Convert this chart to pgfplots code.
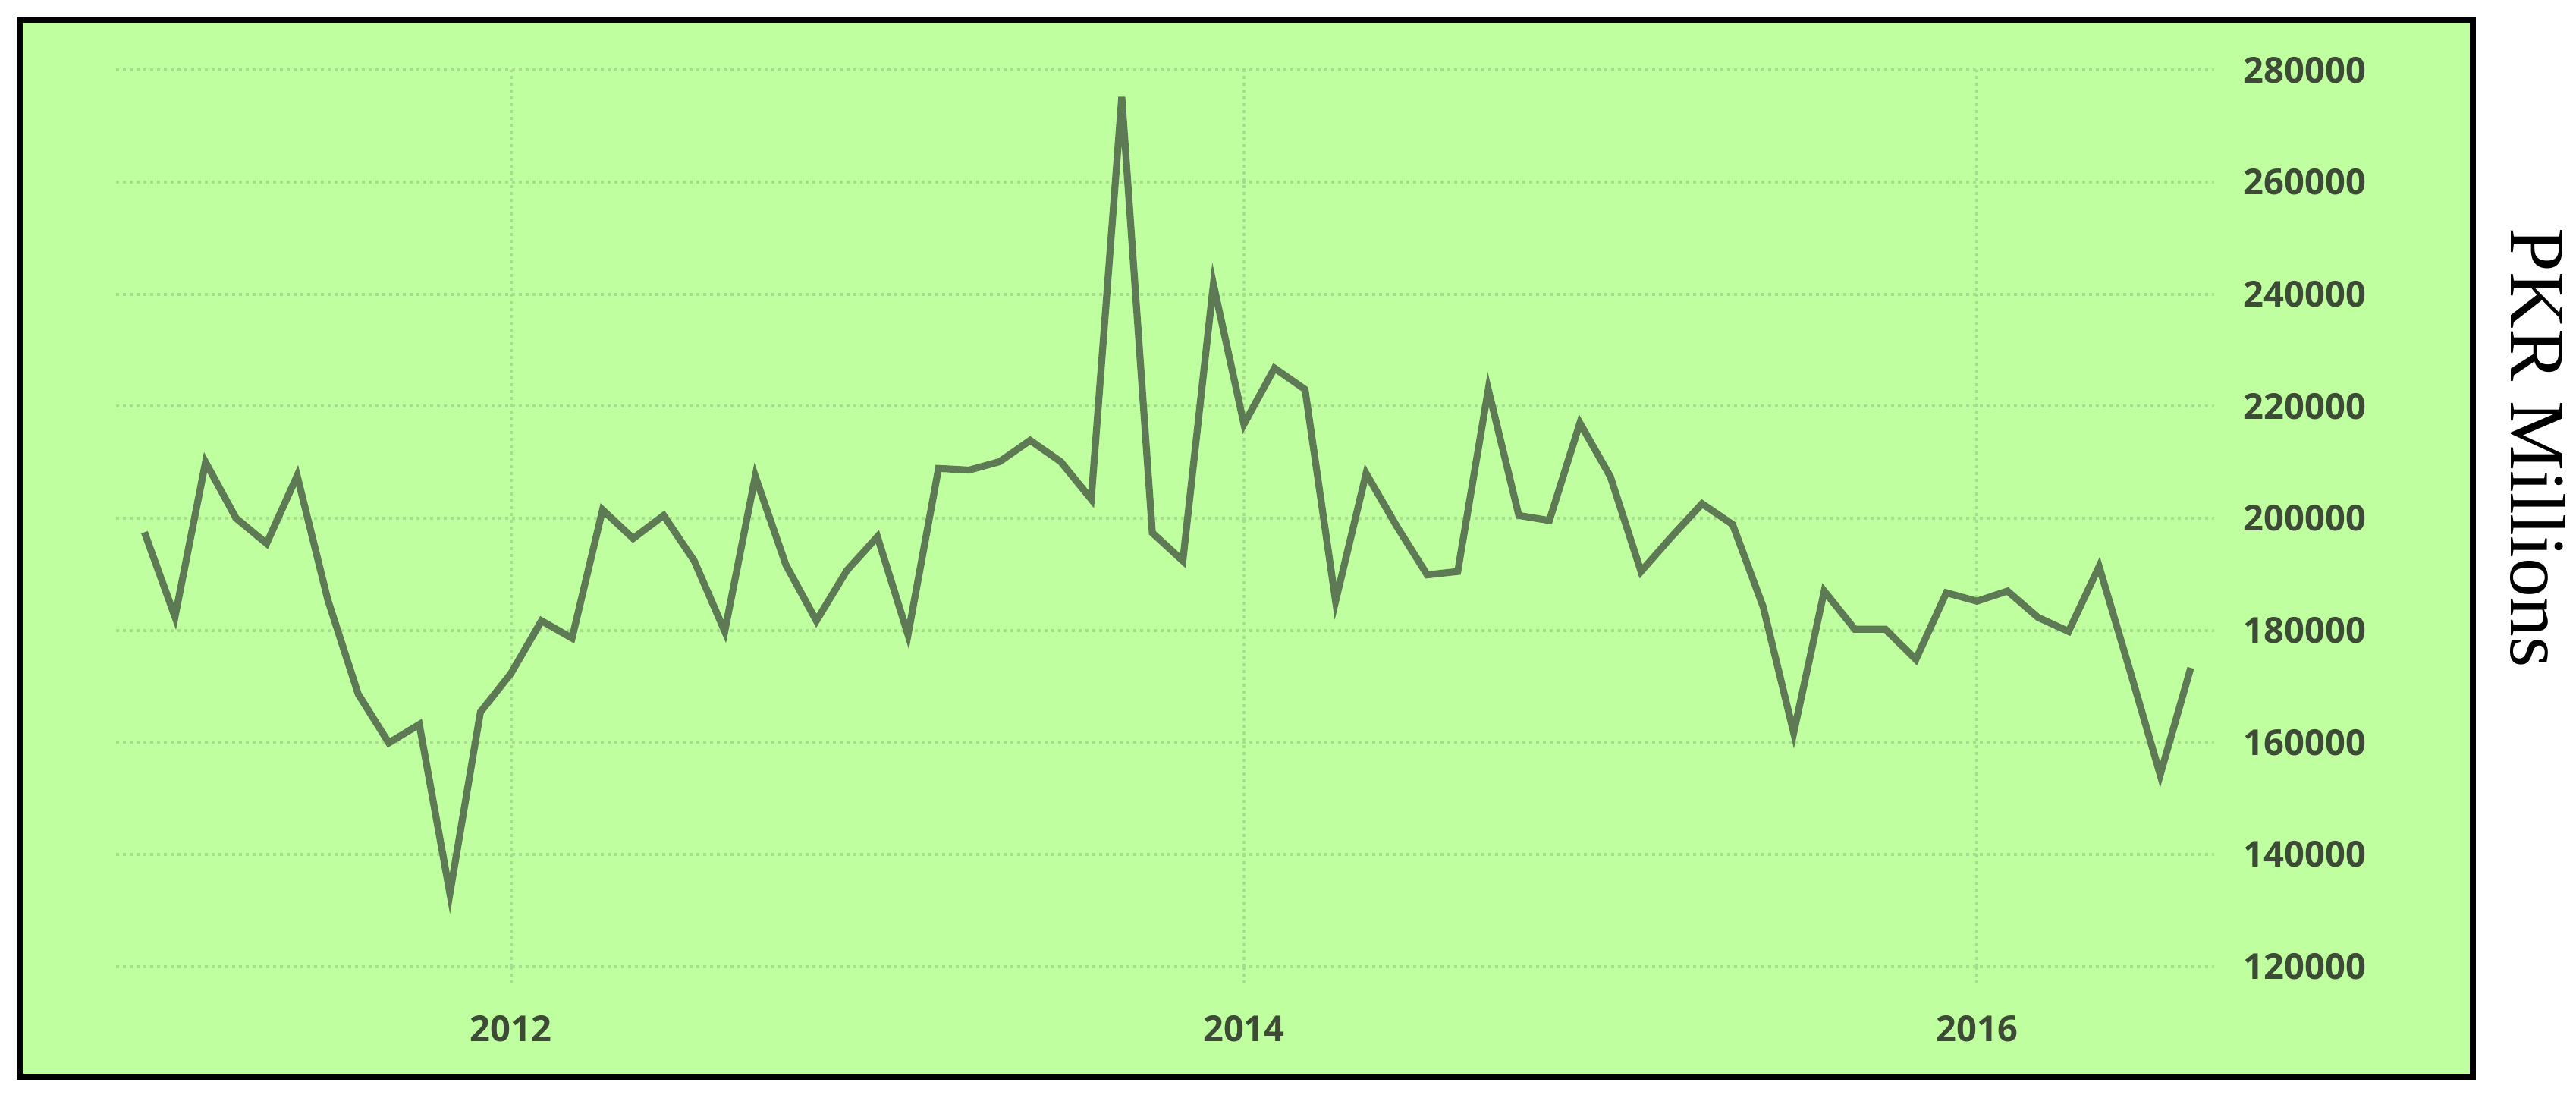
\documentclass[border=0pt]{standalone}
\usepackage{fontspec}
\setmainfont{Open Sans}
\newfontfamily\tnr{Liberation Serif}
\usepackage{pgfplots}
\pgfplotsset{compat=1.18}
\definecolor{bg}{HTML}{C0FFA0}
\definecolor{gridc}{HTML}{A6DE8E}
\definecolor{linec}{HTML}{5E7A55}
\definecolor{labc}{HTML}{3C4A36}
\begin{document}
\begin{tikzpicture}[x=1bp,y=1bp]
\path[use as bounding box] (0,0) rectangle (849,361.5);
\fill[bg] (6.5,6.75) rectangle (815,355);
\begin{axis}[
    at={(38.25bp,43.1bp)}, anchor=south west,
    scale only axis,
    width=691.5bp, height=295.3bp,
    xmin=-0.93, xmax=67.77,
    ymin=120000, ymax=280000,
    xtick={12,36,60},
    xticklabels={2012,2014,2016},
    ytick={120000,140000,...,280000},
    scaled y ticks=false,
    yticklabel pos=right,
    yticklabel={\pgfmathprintnumber[fixed,precision=0,1000 sep={}]{\tick}},
    /pgf/number format/assume math mode=true,
    ticklabel style={font=\fontsize{11.8}{12}\selectfont\bfseries, text=labc},
    yticklabel style={anchor=west, inner sep=0pt, xshift=4bp},
    xticklabel style={anchor=north, inner sep=0pt, yshift=-10.4bp},
    axis line style={draw=none},
    ymajorgrids, xmajorgrids,
    major grid style={draw=gridc, line width=1bp, dash pattern=on 1bp off 1.25bp},
    ytick style={draw=none},
    xtick style={draw=gridc, line width=1bp, dash pattern=on 1bp off 1.25bp},
    xtick pos=bottom, tick align=outside,
    major tick length=5.5bp,
    clip=false,
]
\addplot[linec, line width=2.3bp, line join=miter, mark=none] coordinates {
(0,197500) (1,182400) (2,210000) (3,200000) (4,195500) (5,207600)
(6,185500) (7,168600) (8,159900) (9,163200) (10,133000) (11,165400)
(12,172300) (13,181700) (14,178600) (15,201500) (16,196400) (17,200500)
(18,192400) (19,179800) (20,207500) (21,191700) (22,181700) (23,190700)
(24,196700) (25,179200) (26,208900) (27,208600) (28,210100) (29,213900)
(30,210100) (31,203400) (32,275200) (33,197400) (34,192400) (35,241800)
(36,216800) (37,226800) (38,223000) (39,185200) (40,208000) (41,198600)
(42,189900) (43,190500) (44,223000) (45,200500) (46,199600) (47,217000)
(48,207400) (49,190500) (50,196700) (51,202600) (52,198900) (53,184200)
(54,161700) (55,187000) (56,180200) (57,180200) (58,174800) (59,186700)
(60,185200) (61,187000) (62,182300) (63,179800) (64,191400) (65,173000)
(66,154200) (67,173300)
};
\end{axis}
\draw[black, line width=2bp] (6.5,6.75) rectangle (815,355);
\node[rotate=-90, anchor=base, inner sep=0pt] at (827.5,214)
    {\tnr\fontsize{26}{28}\selectfont PKR Millions};
\end{tikzpicture}
\end{document}
